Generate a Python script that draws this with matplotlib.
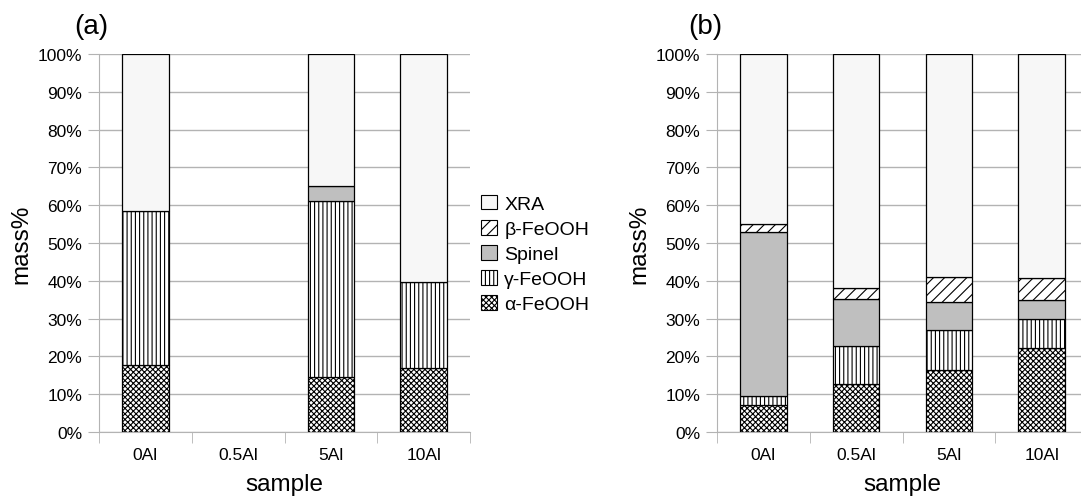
import numpy as np
import matplotlib
matplotlib.use("Agg")
import matplotlib.pyplot as plt
from matplotlib.patches import Patch
from matplotlib.ticker import PercentFormatter, FixedLocator

plt.rcParams['font.family'] = ['Liberation Sans', 'DejaVu Sans']
plt.rcParams['hatch.linewidth'] = 0.8

# === DATA (mass%) ===
samples = ["0Al", "0.5Al", "5Al", "10Al"]
phases = ["α-FeOOH", "γ-FeOOH", "Spinel", "β-FeOOH", "XRA"]

# panel (a)
a_alpha = [17.6, 0.0, 14.5, 16.9]
a_gamma = [40.8, 0.0, 46.6, 22.8]
a_spinel = [0.0, 0.0, 4.0, 0.0]
a_beta = [0.0, 0.0, 0.0, 0.0]
a_xra = [41.6, 0.0, 34.9, 60.3]

# panel (b)
b_alpha = [7.1, 12.8, 16.5, 22.3]
b_gamma = [2.4, 9.9, 10.6, 7.5]
b_spinel = [43.3, 12.5, 7.3, 5.1]
b_beta = [2.1, 2.9, 6.7, 5.8]
b_xra = [45.1, 61.9, 58.8, 59.3]

# styles per phase
fills = ["white", "white", "#bfbfbf", "white", "#f7f7f7"]
hatches = ["xxxxxx", "||||", "", "///", ""]
grid_col = "#b3b3b3"


def draw_panel(ax, series):
    x = np.arange(len(samples)) + 0.5
    bottom = np.zeros(len(samples))
    for vals, name, fc, h in zip(series, phases, fills, hatches):
        vals = np.array(vals)
        lw = [0.9 if v > 0 else 0 for v in vals]
        ax.bar(x, vals, width=0.5, bottom=bottom, color=fc, hatch=h,
               edgecolor="black", linewidth=lw, zorder=3)
        bottom += vals
    ax.set_xlim(0, len(samples))
    ax.set_ylim(0, 100)
    ax.set_yticks(np.arange(0, 101, 10))
    ax.yaxis.set_major_formatter(PercentFormatter(decimals=0))
    ax.set_xticks(x)
    ax.set_xticklabels(samples)
    ax.xaxis.set_minor_locator(FixedLocator(np.arange(len(samples) + 1)))
    ax.tick_params(axis="x", which="major", length=0, pad=11, labelsize=12.5)
    ax.tick_params(axis="x", which="minor", length=8, color=grid_col, direction="out")
    ax.tick_params(axis="y", length=8, color=grid_col, labelsize=12.5, pad=4)
    ax.grid(axis="y", color=grid_col, linewidth=1, zorder=0)
    ax.set_axisbelow(True)
    for s in ["top", "right"]:
        ax.spines[s].set_visible(False)
    for s in ["left", "bottom"]:
        ax.spines[s].set_color(grid_col)
    ax.set_xlabel("sample", fontsize=17.5, labelpad=8)
    ax.set_ylabel("mass%", fontsize=17.5, labelpad=4)


fig = plt.figure(figsize=(10.81, 5.02), dpi=100)
ax1 = fig.add_axes([99 / 1081, 69 / 502, 371 / 1081, 378 / 502])
ax2 = fig.add_axes([717 / 1081, 69 / 502, 371 / 1081, 378 / 502])

draw_panel(ax1, [a_alpha, a_gamma, a_spinel, a_beta, a_xra])
draw_panel(ax2, [b_alpha, b_gamma, b_spinel, b_beta, b_xra])

fig.text(91 / 1081, 1 - 27 / 502, "(a)", fontsize=20, ha="center", va="center")
fig.text(705 / 1081, 1 - 27 / 502, "(b)", fontsize=20, ha="center", va="center")

# legend, reversed so XRA on top
handles = [Patch(facecolor=fc, edgecolor="black", hatch=h, linewidth=0.8)
           for fc, h in zip(fills, hatches)][::-1]
fig.legend(handles, phases[::-1], loc="center left",
           bbox_to_anchor=(481 / 1081, 1 - 255 / 502), frameon=False,
           fontsize=14, handlelength=0.8, handleheight=0.8, handletextpad=0.4,
           labelspacing=0.36, borderaxespad=0, borderpad=0)

fig.savefig("out.png", dpi=100)
